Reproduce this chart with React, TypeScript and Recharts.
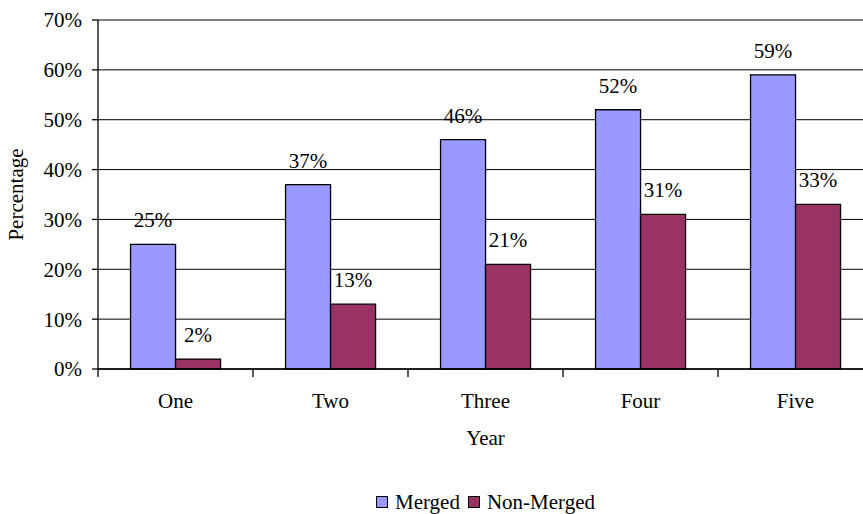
import React from "react";
import {
  BarChart,
  Bar,
  XAxis,
  YAxis,
  CartesianGrid,
  Legend,
  LabelList,
  Label,
} from "recharts";

// Share of companies (%) by year since the event
const years = ["One", "Two", "Three", "Four", "Five"];
const merged = [25, 37, 46, 52, 59];
const nonMerged = [2, 13, 21, 31, 33];
const yTicks = [0, 10, 20, 30, 40, 50, 60, 70];

const seriesNames = { merged: "Merged", nonMerged: "Non-Merged" };
const seriesColors = { merged: "#9999FF", nonMerged: "#993366" };

const data = years.map((year, i) => ({
  year,
  merged: merged[i],
  nonMerged: nonMerged[i],
}));

const FONT = "Liberation Serif";
const FONT_SIZE = 21;

const pct = (v: any) => `${v}%`;

const textStyle = { fontFamily: FONT, fontSize: FONT_SIZE, fill: "#000" };

// Category label centred in its band, with a tick mark on the band's left edge
const YearTick = (props: any) => {
  const { x, y, payload } = props;
  const half = payload && typeof payload.offset === "number" ? payload.offset : 77.5;
  const left = x - half;
  return (
    <g>
      <line x1={left} y1={y} x2={left} y2={y + 8} stroke="#000" strokeWidth={1.3} />
      <text x={x} y={y + 39} textAnchor="middle" style={textStyle}>
        {payload.value}
      </text>
    </g>
  );
};

const LegendContent = (props: any) => {
  const { payload } = props;
  return (
    <div
      style={{
        display: "flex",
        justifyContent: "center",
        alignItems: "center",
        height: 24,
        fontFamily: FONT,
        fontSize: FONT_SIZE,
        color: "#000",
      }}
    >
      {(payload || []).map((entry: any, i: number) => (
        <div
          key={entry.value}
          style={{ display: "flex", alignItems: "center", marginLeft: i === 0 ? 0 : 8 }}
        >
          <span
            style={{
              display: "inline-block",
              width: 10,
              height: 10,
              background: entry.color,
              border: "1.2px solid #000",
              marginRight: 7,
            }}
          />
          <span>{entry.value}</span>
        </div>
      ))}
    </div>
  );
};

export default function App() {
  return (
    <div
      style={{
        position: "absolute",
        left: 0,
        top: 0,
        width: 863,
        height: 514,
        overflow: "hidden",
        background: "#fff",
        fontFamily: FONT,
      }}
    >
      <BarChart
        width={880}
        height={514}
        data={data}
        margin={{ top: 20, right: 7, left: 0, bottom: 0 }}
        barCategoryGap="21%"
        barGap={0}
        style={{ fontFamily: FONT }}
      >
        <CartesianGrid vertical={false} stroke="#000" strokeWidth={1} />
        <XAxis
          dataKey="year"
          height={121}
          tickLine={false}
          tickSize={0}
          tickMargin={0}
          axisLine={{ stroke: "#000", strokeWidth: 1.3 }}
          tick={<YearTick />}
          interval={0}
        >
          <Label value="Year" position="insideBottom" offset={45} style={textStyle} />
        </XAxis>
        <YAxis
          width={98}
          domain={[0, 70]}
          ticks={yTicks}
          interval={0}
          tickFormatter={pct}
          tickSize={6}
          tickMargin={10}
          tickLine={{ stroke: "#000", strokeWidth: 1.3 }}
          axisLine={{ stroke: "#000", strokeWidth: 1.3 }}
          tick={{ fontFamily: FONT, fontSize: FONT_SIZE, fill: "#000", style: textStyle }}
        >
          <Label
            value="Percentage"
            angle={-90}
            position="insideLeft"
            offset={16}
            style={{ ...textStyle, textAnchor: "middle" }}
          />
        </YAxis>
        <Legend
          verticalAlign="bottom"
          width={775}
          wrapperStyle={{ left: 98, width: 775 }}
          content={<LegendContent />}
        />
        <Bar
          dataKey="merged"
          name={seriesNames.merged}
          fill={seriesColors.merged}
          stroke="#000"
          strokeWidth={1.3}
          isAnimationActive={false}
        >
          <LabelList
            dataKey="merged"
            position="top"
            offset={17}
            formatter={pct}
            style={textStyle}
          />
        </Bar>
        <Bar
          dataKey="nonMerged"
          name={seriesNames.nonMerged}
          fill={seriesColors.nonMerged}
          stroke="#000"
          strokeWidth={1.3}
          isAnimationActive={false}
        >
          <LabelList
            dataKey="nonMerged"
            position="top"
            offset={17}
            formatter={pct}
            style={textStyle}
          />
        </Bar>
      </BarChart>
    </div>
  );
}
